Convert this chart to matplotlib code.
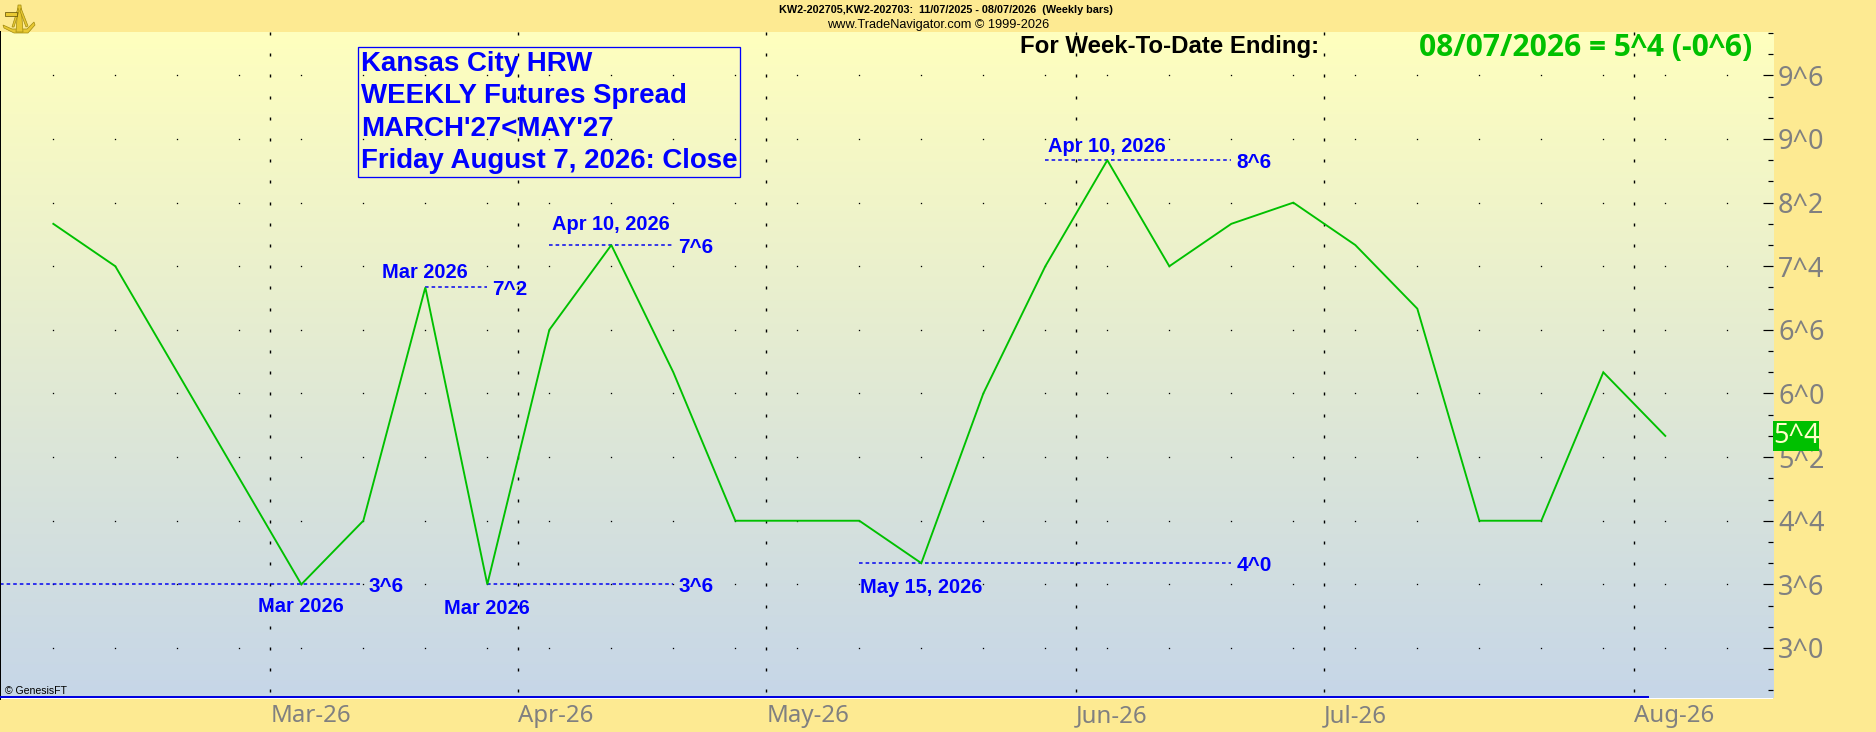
import numpy as np
import pandas as pd
import matplotlib
matplotlib.use('Agg')
import matplotlib.pyplot as plt
from matplotlib.patches import Rectangle, Polygon
from matplotlib.ticker import MultipleLocator
from matplotlib.colors import LinearSegmentedColormap

W, H = 1876, 732

# Weekly closes of the spread, in cents (eighths shown as ^n on the axis)
week_dates = pd.date_range('2026-02-06', '2026-08-07', freq='7D')
closes = [8.0, 7.5, 6.25, 5.0, 3.75, 4.5, 7.25, 3.75, 6.75, 7.75, 6.25, 4.5, 4.5, 4.5,
          4.0, 6.0, 7.5, 8.75, 7.5, 8.0, 8.25, 7.75, 7.0, 4.5, 4.5, 6.25, 5.5]

y_ticks = [3.0, 3.75, 4.5, 5.25, 6.0, 6.75, 7.5, 8.25, 9.0, 9.75]
y_labels = ['3^0', '3^6', '4^4', '5^2', '6^0', '6^6', '7^4', '8^2', '9^0', '9^6']

# text, week index of the point, value, start and end week of the dotted line, value label
callouts = [
    ('Mar 2026', 4, 3.75, -1, 5, '3^6'),
    ('Mar 2026', 7, 3.75, 7, 10, '3^6'),
    ('Mar 2026', 6, 7.25, 6, 7, '7^2'),
    ('Apr 10, 2026', 9, 7.75, 8, 10, '7^6'),
    ('May 15, 2026', 14, 4.0, 13, 19, '4^0'),
    ('Apr 10, 2026', 17, 8.75, 16, 19, '8^6'),
]
# how far the date text sits from its line, pixels (+ is above)
label_gaps = [-22, -24.5, 15, 21, -24.5, 13.5]

title_lines = ['Kansas City HRW', 'WEEKLY Futures Spread', "MARCH'27<MAY'27",
               'Friday August 7, 2026: Close']
last_label = '5^4'

BG = '#FDEA92'
GREEN = '#00C000'
BLUE = '#0000FF'
GRAY = '#808080'
ARIAL = 'Liberation Sans'
TICK_FONT = 'Noto Sans'
PX_PER_UNIT = 84.83


def px(size):
    return size * 0.72


def fig_xy(x, y):
    return x / W, 1 - y / H


fig = plt.figure(figsize=(W / 100, H / 100), dpi=100, facecolor=BG)
ax = fig.add_axes([0, 1 - 698.5 / H, 1773 / W, 666.5 / H])

# panel gradient
grad = LinearSegmentedColormap.from_list('panel', ['#FFFFBE', '#C6D6E8'])
ax.imshow(np.linspace(0, 1, 256).reshape(-1, 1), cmap=grad, aspect='auto',
          extent=(0, 1, 0, 1), transform=ax.transAxes, zorder=0)
ax.set_xlim(-0.86, 27.737)
ax.set_ylim(9 - (698.5 - 139) / PX_PER_UNIT, 9 + (139 - 32) / PX_PER_UNIT)

weeks = np.arange(len(week_dates))

# month ticks sit half a bar before the first week of each month
month_pos, month_labels = [], []
for i in weeks[1:]:
    if week_dates[i].month != week_dates[i - 1].month:
        month_pos.append(i - 0.5)
        month_labels.append(week_dates[i].strftime('%b-%y'))

# dotted grid: dots on the price levels, dashes on the month lines
gx, gy = np.meshgrid(np.arange(0, 28), y_ticks)
ax.plot(gx.ravel(), gy.ravel(), ls='', marker='s', ms=px(1.3), mew=0, color='black', zorder=1)
minor_levels = np.arange(2.5, 10.3, 0.25)
mx, my = np.meshgrid(month_pos, minor_levels)
ax.plot(mx.ravel(), my.ravel(), ls='', marker='|', ms=px(3), mew=px(1.4), color='black', zorder=1)

ax.plot(weeks, closes, color=GREEN, lw=px(1.9), zorder=3, solid_joinstyle='miter')

# high/low callouts
for (text, wk, val, x0, x1, val_label), gap in zip(callouts, label_gaps):
    x0 = max(x0, -0.86)
    ax.plot([x0, x1], [val, val], color='#0000F0', lw=px(1.5), ls=(0, (2.4, 2.0)), zorder=2)
    ax.text(x1 + 0.08, val - 2 / PX_PER_UNIT, val_label, color=BLUE, fontsize=px(20.8), family=ARIAL,
            fontweight='bold', ha='left', va='center', zorder=4)
    ax.text(wk, val + gap / PX_PER_UNIT, text, color=BLUE, fontsize=px(20), family=ARIAL,
            fontweight='bold', ha='center', va='center', zorder=4)

# axes
for side in ['top', 'right', 'left', 'bottom']:
    ax.spines[side].set_visible(False)
ax.plot([0, 0], [0, 1], transform=ax.transAxes, color='black', lw=px(2), clip_on=False, zorder=5)
ax.plot([-0.86, 25.72], [2.417, 2.417], color='#0000E0', lw=px(2), zorder=5)

ax.yaxis.tick_right()
ax.set_yticks(y_ticks)
ax.set_yticklabels(y_labels, family=TICK_FONT, fontsize=px(27), color=GRAY)
ax.yaxis.set_minor_locator(MultipleLocator(0.25))
ax.tick_params(axis='y', which='major', direction='in', length=px(10), width=px(1.2), pad=px(5), color='black')
ax.tick_params(axis='y', which='minor', direction='in', length=px(5), width=px(1.2), color='black')
ax.set_xticks(month_pos)
ax.set_xticklabels(month_labels, family=TICK_FONT, fontsize=px(24), color=GRAY, ha='left')
ax.tick_params(axis='x', length=0, pad=px(6))

# last value flag
fig.add_artist(Rectangle((1773 / W, 1 - 451 / H), 46 / W, 30.5 / H, transform=fig.transFigure,
                         color=GREEN, lw=0, zorder=6))
fig.text(*fig_xy(1796, 436), last_label, color='#FFFFC8', family=TICK_FONT, fontsize=px(27),
         ha='center', va='center', zorder=7)

# title box
fig.add_artist(Rectangle(fig_xy(357.6, 177.3), (740 - 357.6) / W, 130 / H, transform=fig.transFigure,
                         fill=False, ec=BLUE, lw=px(1.3), zorder=6))
for n, line in enumerate(title_lines):
    fig.text(*fig_xy(361, 64 + 32.3 * n), line, color=BLUE, family=ARIAL, fontweight='bold',
             fontsize=px(27.6), ha='left', va='center', zorder=7)

# header text
fig.text(*fig_xy(945.5, 10), 'KW2-202705,KW2-202703:  11/07/2025 - 08/07/2026  (Weekly bars)',
         family=ARIAL, fontweight='bold', fontsize=px(10.85), ha='center', va='center', color='black')
fig.text(*fig_xy(938.5, 25), 'www.TradeNavigator.com \u00a9 1999-2026', family=ARIAL, fontsize=px(12.75),
         ha='center', va='center', color='black')
fig.text(*fig_xy(1020, 47), 'For Week-To-Date Ending:', family=ARIAL, fontweight='bold', fontsize=px(24),
         ha='left', va='center', color='black', zorder=7)
fig.text(*fig_xy(1419, 48), '08/07/2026 = 5^4 (-0^6)', family='Open Sans', fontweight='bold',
         fontsize=px(30), ha='left', va='center', color=GREEN, zorder=7)
fig.text(*fig_xy(5, 691), '\u00a9 GenesisFT', family=ARIAL, fontsize=px(10.5), ha='left', va='center',
         color='black', zorder=7)

# small gold logo in the corner
gold = '#E8C832'
edge = '#A08A10'
logo_shapes = [
    [(3, 25), (12, 29), (27, 29), (34, 22), (35, 25), (28, 33), (14, 33), (4, 28)],
    [(18, 5), (21, 5), (23, 32), (16, 32)],
    [(18, 8), (12, 27), (14, 27), (19, 11)],
    [(21, 8), (28, 26), (26, 27), (20, 11)],
]
for shape in logo_shapes:
    fig.add_artist(Polygon([fig_xy(*p) for p in shape], transform=fig.transFigure,
                           fc=gold, ec=edge, lw=0.5, zorder=7))
fig.add_artist(Rectangle(fig_xy(5, 16), 12 / W, 4 / H, transform=fig.transFigure, fc=gold, ec='#5A4A00',
                         lw=0.5, zorder=7))

fig.savefig('out.png', dpi=100, facecolor=BG)
